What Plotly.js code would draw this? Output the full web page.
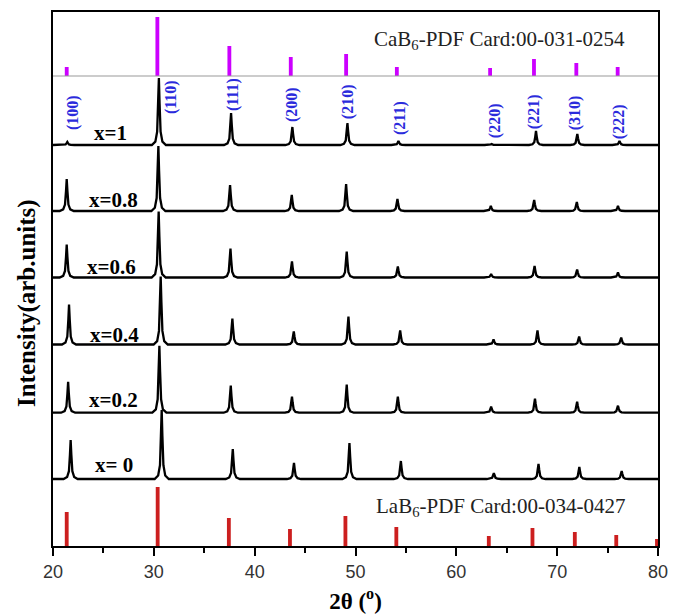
<!DOCTYPE html>
<html>
<head>
<meta charset="utf-8">
<script src="https://cdn.plot.ly/plotly-3.0.1.min.js"></script>
<style>html,body{margin:0;padding:0;background:#fff;}#chart{width:674px;height:614px;}</style>
</head>
<body>
<div id="chart"></div>
<script>
// ---- Data (y in arbitrary units, stacked) ----
var sampleNames = ["x=1", "x=0.8", "x=0.6", "x=0.4", "x=0.2", "x= 0"];
var offsets = [401, 335, 268.5, 201.5, 133.3, 67];

var pos_x1  = [21.42, 30.50, 37.66, 43.74, 49.20, 54.26, 63.50, 67.90, 72.00, 76.18];
var h_x1    = [3, 67, 32, 18, 22, 4, 1, 14, 11, 4];
var pos_x08 = [21.36, 30.45, 37.56, 43.68, 49.07, 54.16, 63.42, 67.72, 71.95, 76.03];
var h_x08   = [32, 65, 26, 16, 27, 12, 5, 11, 9, 5];
var pos_x06 = [21.36, 30.48, 37.60, 43.70, 49.13, 54.20, 63.45, 67.76, 71.98, 76.03];
var h_x06   = [33, 66, 29, 16, 26, 11, 3.5, 11.5, 8, 5];
var pos_x04 = [21.59, 30.68, 37.79, 43.88, 49.30, 54.43, 63.69, 68.05, 72.18, 76.35];
var h_x04   = [40, 68, 26, 13, 28, 14, 5, 14, 8, 7];
var pos_x02 = [21.50, 30.55, 37.63, 43.70, 49.13, 54.20, 63.45, 67.80, 71.98, 76.03];
var h_x02   = [31, 67, 27, 16, 28, 16, 6, 14, 11, 7];
var pos_x0  = [21.75, 30.78, 37.83, 43.90, 49.40, 54.50, 63.72, 68.15, 72.20, 76.40];
var h_x0    = [39, 69, 30, 16, 36, 18, 6, 15, 12, 8];

// Reference cards
var caPos = [21.36, 30.35, 37.49, 43.58, 49.07, 54.10, 63.35, 67.70, 71.90, 76.00];
var caH   = [9, 59, 30, 19, 22, 9, 8, 17, 13, 9];
var laPos = [21.36, 30.38, 37.44, 43.50, 49.00, 54.05, 63.22, 67.55, 71.75, 75.86, 79.90];
var laH   = [34, 59, 28, 17, 30, 19, 10, 18, 14, 11, 7];

var millerLabels = ["(100)", "(110)", "(111)", "(200)", "(210)", "(211)", "(220)", "(221)", "(310)", "(222)"];
var millerX = [21.98, 31.71, 37.86, 43.71, 49.27, 54.42, 63.85, 67.72, 71.79, 76.15];
var millerY = [434, 449, 451, 441, 444, 428, 425, 434, 433, 424];

var labelX = [25.75, 26.0, 25.85, 26.1, 26.0, 26.0];
var labelY = [413, 346, 279.3, 211, 146, 81];

var dividerY = 470;

// ---- Build ----
var patterns = [[pos_x1,h_x1],[pos_x08,h_x08],[pos_x06,h_x06],[pos_x04,h_x04],[pos_x02,h_x02],[pos_x0,h_x0]];
var shapeOff = [-0.7, -0.35, -0.17, -0.07, 0, 0.07, 0.17, 0.35, 0.7];
var shapeFrac = [0, 0.05, 0.2, 0.62, 1, 0.62, 0.2, 0.05, 0];

var traces = [];
patterns.forEach(function(p, i) {
  var xs = [20], ys = [offsets[i]];
  p[0].forEach(function(c, k) {
    shapeOff.forEach(function(o, j) {
      xs.push(c + o);
      ys.push(offsets[i] + shapeFrac[j] * p[1][k]);
    });
  });
  xs.push(80); ys.push(offsets[i]);
  traces.push({x: xs, y: ys, type: 'scatter', mode: 'lines',
    line: {color: '#000', width: 2.3}, hoverinfo: 'skip', showlegend: false});
});

traces.push({x: [20, 80], y: [dividerY, dividerY], type: 'scatter', mode: 'lines',
  line: {color: '#999', width: 1.2}, showlegend: false, hoverinfo: 'skip'});

traces.push({x: caPos, y: caH, base: dividerY, type: 'bar', width: 0.38,
  marker: {color: '#cc00ff', line: {width: 0}}, showlegend: false});
traces.push({x: laPos, y: laH, base: 0, type: 'bar', width: 0.38,
  marker: {color: '#cc1f1f', line: {width: 0}}, showlegend: false});

var serif = 'Liberation Serif, Times New Roman, serif';
var annotations = [];
millerLabels.forEach(function(t, i) {
  annotations.push({x: millerX[i], y: millerY[i], xref: 'x', yref: 'y', text: '<b>' + t + '</b>',
    showarrow: false, textangle: -90, xanchor: 'center', yanchor: 'middle',
    font: {family: serif, size: 16, color: '#2b2bdc'}});
});
sampleNames.forEach(function(t, i) {
  annotations.push({x: labelX[i], y: labelY[i], xref: 'x', yref: 'y', text: '<b>' + t + '</b>',
    showarrow: false, xanchor: 'center', yanchor: 'middle',
    font: {family: serif, size: 21, color: '#000'}});
});
annotations.push({x: 64.3, y: 506, xref: 'x', yref: 'y', text: 'CaB<sub>6</sub>-PDF Card:00-031-0254',
  showarrow: false, xanchor: 'center', yanchor: 'middle', font: {family: serif, size: 21, color: '#222'}});
annotations.push({x: 64.4, y: 39, xref: 'x', yref: 'y', text: 'LaB<sub>6</sub>-PDF Card:00-034-0427',
  showarrow: false, xanchor: 'center', yanchor: 'middle', font: {family: serif, size: 21, color: '#222'}});
annotations.push({x: -0.043, y: 0.455, xref: 'paper', yref: 'paper', text: '<b>Intensity(arb.units)</b>',
  showarrow: false, textangle: -90, xanchor: 'center', yanchor: 'middle',
  font: {family: serif, size: 25, color: '#000'}});

var layout = {
  width: 674, height: 614,
  margin: {l: 53, r: 16, t: 12, b: 68},
  paper_bgcolor: '#fff', plot_bgcolor: '#fff',
  barmode: 'overlay',
  showlegend: false,
  xaxis: {
    range: [20, 80], dtick: 10, tick0: 20,
    showgrid: false, zeroline: false,
    showline: true, linecolor: '#000', linewidth: 2, mirror: true,
    ticks: 'outside', ticklen: 8, tickwidth: 2, tickcolor: '#000',
    minor: {dtick: 5, ticks: 'outside', ticklen: 5, tickwidth: 2, tickcolor: '#000', showgrid: false},
    tickfont: {family: 'Liberation Sans, Arial, sans-serif', size: 18, color: '#333'},
    title: {text: '<b>2θ (<sup>o</sup>)</b>', standoff: 12,
      font: {family: serif, size: 23, color: '#000'}}
  },
  yaxis: {
    range: [0, 534], showgrid: false, zeroline: false,
    showline: true, linecolor: '#000', linewidth: 2, mirror: true,
    ticks: '', showticklabels: false
  },
  annotations: annotations
};

Plotly.newPlot('chart', traces, layout, {displayModeBar: false, staticPlot: true});
</script>
</body>
</html>
